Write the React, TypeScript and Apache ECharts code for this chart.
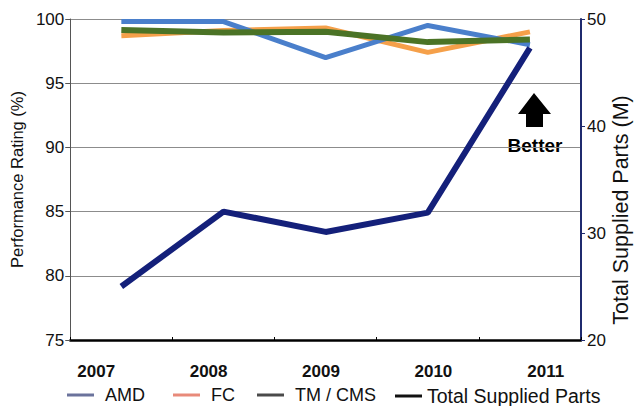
import React, { useEffect, useRef } from "react";
import * as echarts from "echarts";

const years = ["2007", "2008", "2009", "2010", "2011"];
const amd = [99.8, 99.8, 97.0, 99.5, 98.0];
const fc = [98.7, 99.1, 99.3, 97.4, 99.0];
const tmcms = [99.15, 98.95, 99.0, 98.2, 98.4];
const totalParts = [25.0, 32.0, 30.1, 31.9, 47.3];

const SANS = "'Liberation Sans', Arial, sans-serif";

export default function App() {
  const ref = useRef<HTMLDivElement>(null);
  useEffect(() => {
    document.body.style.margin = "0";
    const chart = echarts.init(ref.current!, null, { renderer: "svg" });
    const legendBase = (left: number, name: string, color: string, pad: number, size: number) => ({
      left,
      top: 386,
      padding: 0,
      icon: "rect",
      itemWidth: 27,
      itemHeight: 3,
      selectedMode: false,
      textStyle: { fontFamily: SANS, fontSize: size, color: "#111", padding: [0, 0, 0, pad] },
      data: [{ name, itemStyle: { color } }],
    });
    chart.setOption({
      animation: false,
      backgroundColor: "#fff",
      grid: [
        { left: 68, right: 53, top: 19, bottom: 66 },
        { left: 40, right: 32, top: 19, bottom: 66 },
      ],
      legend: [
        legendBase(67, "AMD", "#6b739c", 6, 18),
        legendBase(173, "FC", "#e88a7a", 6, 18),
        legendBase(257, "TM / CMS", "#4a4a4a", 6, 18),
        legendBase(395, "Total Supplied Parts", "#111111", 0, 19.5),
      ],
      xAxis: [
        {
          type: "category",
          gridIndex: 0,
          data: years,
          boundaryGap: true,
          axisLine: { lineStyle: { color: "#000", width: 2.5 } },
          axisTick: { show: true, inside: true, length: 3, lineStyle: { color: "#000" } },
          axisLabel: { show: false },
        },
        {
          type: "category",
          gridIndex: 1,
          data: years,
          boundaryGap: true,
          axisLine: { show: false },
          axisTick: { show: false },
          axisLabel: {
            margin: 23,
            fontFamily: SANS,
            fontWeight: "bold",
            fontSize: 17,
            color: "#111",
          },
        },
      ],
      yAxis: [
        {
          type: "value",
          gridIndex: 0,
          min: 75,
          max: 100,
          interval: 5,
          name: "Performance Rating (%)",
          nameLocation: "middle",
          nameGap: 43,
          nameTextStyle: { fontFamily: SANS, fontSize: 16.5, color: "#111" },
          axisLine: { show: true, lineStyle: { color: "#555", width: 1 } },
          axisTick: { show: true, length: 5, lineStyle: { color: "#555" } },
          axisLabel: { fontFamily: SANS, fontSize: 17, color: "#111", margin: 6 },
          splitLine: { show: true, lineStyle: { color: "#8c8c8c", width: 1 } },
        },
        {
          type: "value",
          gridIndex: 0,
          position: "right",
          min: 20,
          max: 50,
          interval: 10,
          axisLine: { show: true, lineStyle: { color: "#1f2a6e", width: 2 } },
          axisTick: { show: true, length: 4, lineStyle: { color: "#1f2a6e" } },
          axisLabel: { fontFamily: SANS, fontSize: 17, color: "#111", margin: 6 },
          splitLine: { show: false },
        },
        { type: "value", gridIndex: 1, min: 0, max: 1, show: false },
      ],
      series: [
        {
          name: "FC",
          type: "line",
          data: fc,
          xAxisIndex: 0,
          yAxisIndex: 0,
          symbol: "none",
          lineStyle: { color: "#f5a04a", width: 5 },
          itemStyle: { color: "#f5a04a" },
        },
        {
          name: "AMD",
          type: "line",
          data: amd,
          xAxisIndex: 0,
          yAxisIndex: 0,
          symbol: "none",
          lineStyle: { color: "#4a7fcb", width: 5 },
          itemStyle: { color: "#4a7fcb" },
        },
        {
          name: "TM / CMS",
          type: "line",
          data: tmcms,
          xAxisIndex: 0,
          yAxisIndex: 0,
          symbol: "none",
          lineStyle: { color: "#4b7326", width: 6 },
          itemStyle: { color: "#4b7326" },
        },
        {
          name: "Total Supplied Parts",
          type: "line",
          data: totalParts,
          xAxisIndex: 0,
          yAxisIndex: 1,
          symbol: "none",
          lineStyle: { color: "#14207a", width: 6 },
          itemStyle: { color: "#14207a" },
        },
      ],
      graphic: [
        {
          type: "text",
          x: 621,
          y: 210,
          rotation: Math.PI / 2,
          style: {
            text: "Total Supplied Parts (M)",
            fontFamily: SANS,
            fontSize: 21.5,
            fill: "#111",
            align: "center",
            verticalAlign: "middle",
          },
        },
        {
          type: "polygon",
          shape: {
            points: [
              [534, 93],
              [551, 114],
              [543, 114],
              [543, 127],
              [526, 127],
              [526, 114],
              [518, 114],
            ],
          },
          style: { fill: "#000" },
        },
        {
          type: "text",
          x: 535,
          y: 145,
          style: {
            text: "Better",
            fontFamily: SANS,
            fontWeight: "bold",
            fontSize: 19,
            fill: "#000",
            align: "center",
            verticalAlign: "middle",
            backgroundColor: "#fff",
            padding: [0, 2],
          },
        },
      ],
    });
    return () => chart.dispose();
  }, []);
  return <div ref={ref} style={{ width: 634, height: 406 }} />;
}
